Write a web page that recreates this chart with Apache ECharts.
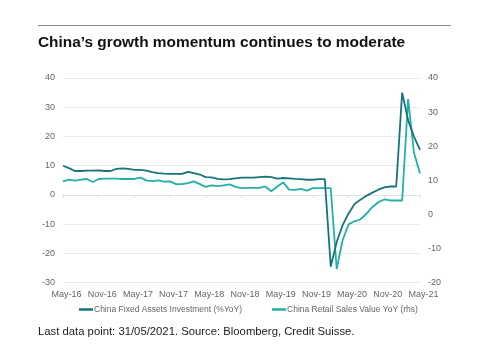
<!DOCTYPE html>
<html><head><meta charset="utf-8">
<script src="https://cdn.jsdelivr.net/npm/echarts@6/dist/echarts.min.js"></script>
<style>html,body{margin:0;padding:0;background:#fff}#c{width:480px;height:363px}</style>
</head><body><div id="c"></div>
<script>
const months = [];
const mn = ['Jan','Feb','Mar','Apr','May','Jun','Jul','Aug','Sep','Oct','Nov','Dec'];
for (let i = 0; i < 61; i++) { const m = (4 + i) % 12; const y = 16 + Math.floor((4 + i) / 12); months.push(mn[m] + '-' + y); }
const faiName = 'China Fixed Assets Investment (%YoY)';
const rsName = 'China Retail Sales Value YoY (rhs)';
const fai = [10.0,9.2,8.2,8.2,8.3,8.3,8.4,8.2,8.2,8.9,9.1,8.9,8.6,8.6,8.3,7.8,7.5,7.3,7.2,7.2,7.2,7.9,7.5,7.0,6.1,6.0,5.5,5.3,5.4,5.7,5.9,5.9,5.9,6.1,6.3,6.1,5.6,5.8,5.7,5.5,5.4,5.2,5.2,5.4,5.4,-24.5,-16.1,-10.3,-6.3,-3.1,-1.6,-0.3,0.8,1.8,2.6,2.9,2.9,35.0,25.6,19.9,15.4];
const retail = [9.7,10.2,9.9,10.2,10.4,9.5,10.4,10.5,10.5,10.5,10.4,10.4,10.4,10.8,10.0,9.8,10.0,9.6,9.7,8.9,8.9,9.2,9.7,8.9,8.1,8.5,8.3,8.5,8.8,8.1,7.7,7.8,7.8,7.8,8.2,6.8,8.2,9.4,7.3,7.2,7.5,7.0,7.7,7.7,7.7,7.7,-16.0,-7.5,-2.9,-2.0,-1.4,0.2,2.2,3.6,4.4,4.1,4.1,4.1,33.8,18.0,12.0];
const title = 'China’s growth momentum continues to moderate';
const note = 'Last data point: 31/05/2021. Source: Bloomberg, Credit Suisse.';
const FONT = '"Liberation Sans", Arial, Helvetica, sans-serif';
const c1 = '#17737a', c2 = '#22b0a8';
const chart = echarts.init(document.getElementById('c'), null, {renderer:'canvas'});
chart.setOption({
  animation: false,
  textStyle: {fontFamily: FONT},
  title: {text: title, left: 38, top: 35, padding: 0, textStyle: {fontSize: 15.4, fontWeight: 'bold', color: '#111', fontFamily: FONT}},
  graphic: [
    {type:'line', shape:{x1:38, y1:25.5, x2:451, y2:25.5}, style:{stroke:'#8a8a8a', lineWidth:1}},
    {type:'text', left: 38, top: 326, style:{text: note, font: '11.3px ' + FONT, fill:'#222'}}
  ],
  legend: {left: 74, top: 300, itemWidth: 14, itemHeight: 2.5, itemGap: 30, icon: 'rect',
    textStyle: {fontSize: 8.5, color: '#666', fontFamily: FONT, padding:[0,0,0,-4]},
    data: [{name: faiName, itemStyle:{color:c1}}, {name: rsName, itemStyle:{color:c2}}]},
  grid: {left: 63, right: 60, top: 78, bottom: 80.3, containLabel: false},
  xAxis: [
    {type:'category', data: months, boundaryGap:false,
     axisLine:{show:false}, axisTick:{show:false},
     axisLabel:{interval:5, fontSize:9, color:'#666', margin:7, padding:[0,0,0,7]}},
    {type:'category', data: months, boundaryGap:false, position:'top',
     axisLine:{onZero:true, onZeroAxisIndex:0, lineStyle:{color:'#e3e3e3'}},
     axisTick:{interval:5, inside:true, length:3, lineStyle:{color:'#ddd'}},
     axisLabel:{show:false}}
  ],
  yAxis: [
    {type:'value', min:-30, max:40, interval:10, position:'left',
     axisLine:{show:false}, axisTick:{show:false},
     axisLabel:{fontSize:9, color:'#666', margin:8},
     splitLine:{lineStyle:{color:'#ebebeb', width:1}}},
    {type:'value', min:-20, max:40, interval:10, position:'right',
     axisLine:{show:false}, axisTick:{show:false},
     axisLabel:{fontSize:9, color:'#666', margin:8},
     splitLine:{show:false}}
  ],
  series: [
    {name: faiName, type:'line', data: fai, yAxisIndex:0, xAxisIndex:0, symbol:'none',
     lineStyle:{color:c1, width:1.8}, itemStyle:{color:c1}, z:3},
    {name: rsName, type:'line', data: retail, yAxisIndex:1, xAxisIndex:0, symbol:'none',
     lineStyle:{color:c2, width:1.8}, itemStyle:{color:c2}, z:2}
  ]
});
</script></body></html>
